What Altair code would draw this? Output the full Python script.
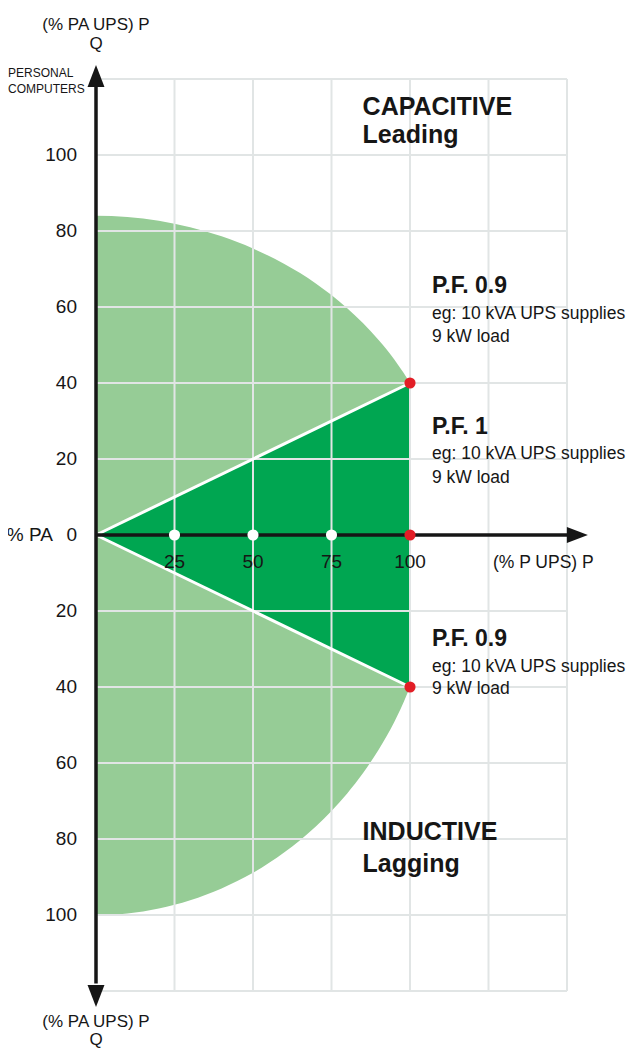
import altair as alt
import pandas as pd

FONT = "Liberation Sans"
LIGHT = "#96cc96"
DARK = "#00a651"
RED = "#e21e26"
GRID = "#e1e5e5"
INK = "#161616"

# ---- grid values ----
x_grid = [25, 50, 75, 100, 125, 150]
y_grid = [-120, -100, -80, -60, -40, -20, 20, 40, 60, 80, 100, 120]

# ---- capability envelope (light green) ----
upper_x = [0, 10, 20, 30, 40, 50, 60, 70, 80, 85, 90, 95, 98, 100]
upper_y = [84, 83.7, 82.7, 81.0, 78.6, 75.4, 71.3, 66.2, 59.7, 55.8, 51.3, 46.2, 42.6, 40]
lower_x = [0, 10, 20, 30, 40, 50, 60, 70, 80, 85, 90, 95, 97, 99, 100]
lower_y = [-100, -99.6, -98.3, -96.1, -93.0, -88.9, -83.5, -76.7, -68.0, -62.7, -56.5,
           -49.2, -45.8, -42.0, -40]

# ---- power-factor triangle (dark green) ----
tri_x = [0, 100]
tri_top = [0, 40]
tri_bottom = [0, -40]

# ---- white P.F. lines ----
pf_line_x = [0, 100, 0, 100]
pf_line_y = [0, 40, 0, -40]
pf_line_id = ["lead", "lead", "lag", "lag"]

# ---- dots ----
dot_x = [25, 50, 75, 100, 100, 100]
dot_y = [0, 0, 0, 0, 40, -40]
dot_kind = ["white", "white", "white", "red", "red", "red"]

# ---- axis lines and arrow heads ----
yaxis_x, yaxis_y0, yaxis_y1 = [0], [-118], [118]
xaxis_y, xaxis_x0, xaxis_x1 = [0], [0], [150.3]
arrow_up = {"x": [0], "y": [120.8]}
arrow_down = {"x": [0], "y": [-121.3]}
arrow_right = {"x": [153.3], "y": [0]}

# ---- tick labels ----
ytick_vals = [100, 80, 60, 40, 20, 0, -20, -40, -60, -80, -100]
ytick_text = ["100", "80", "60", "40", "20", "0", "20", "40", "60", "80", "100"]
xtick_vals = [25, 50, 75, 100]
xtick_text = ["25", "50", "75", "100"]

# ---- annotations ----
big_text = ["CAPACITIVE", "Leading", "INDUCTIVE", "Lagging"]
big_y = [110.5, 103.2, -80.3, -88.7]
pf_text = ["P.F. 0.9", "P.F. 1", "P.F. 0.9"]
pf_y = [63.7, 26.6, -29.2]
eg_text = ["eg: 10 kVA UPS supplies", "9 kW load",
           "eg: 10 kVA UPS supplies", "9 kW load",
           "eg: 10 kVA UPS supplies", "9 kW load"]
eg_y = [56.8, 50.8, 20.0, 13.7, -36.1, -41.8]

title_text = ["(% PA UPS) P", "Q", "(% PA UPS) P", "Q"]
title_y = [132.9, 127.9, -129.6, -134.1]
pc_text = ["PERSONAL", "COMPUTERS"]
pc_y = [120.6, 116.2]

XS = alt.Scale(domain=[0, 150], nice=False, zero=False)
YS = alt.Scale(domain=[-120, 120], nice=False, zero=False)


def X(f="x"):
    return alt.X(f"{f}:Q", scale=XS, axis=None)


def Y(f="y"):
    return alt.Y(f"{f}:Q", scale=YS, axis=None)


upper = alt.Chart(pd.DataFrame({"x": upper_x, "y": upper_y})).mark_area(
    color=LIGHT, interpolate="monotone", opacity=1
).encode(x=X(), y=Y(), y2=alt.datum(0))

lower = alt.Chart(pd.DataFrame({"x": lower_x, "y": lower_y})).mark_area(
    color=LIGHT, interpolate="monotone", opacity=1
).encode(x=X(), y=Y(), y2=alt.datum(0))

tri = alt.Chart(pd.DataFrame({"x": tri_x, "top": tri_top, "bottom": tri_bottom})).mark_area(
    color=DARK, opacity=1
).encode(x=X(), y=Y("top"), y2="bottom:Q")

vgrid = alt.Chart(pd.DataFrame({"x": x_grid})).mark_rule(
    color=GRID, strokeWidth=2
).encode(x=X())
hgrid = alt.Chart(pd.DataFrame({"y": y_grid})).mark_rule(
    color=GRID, strokeWidth=2
).encode(y=Y())

pf_lines = alt.Chart(pd.DataFrame({"x": pf_line_x, "y": pf_line_y, "s": pf_line_id})).mark_line(
    color="white", strokeWidth=3
).encode(x=X(), y=Y(), detail="s:N")

yaxis = alt.Chart(pd.DataFrame({"x": yaxis_x, "y": yaxis_y0, "y2": yaxis_y1})).mark_rule(
    color=INK, strokeWidth=3.5
).encode(x=X(), y=Y(), y2="y2:Q")
xaxis = alt.Chart(pd.DataFrame({"y": xaxis_y, "x": xaxis_x0, "x2": xaxis_x1})).mark_rule(
    color=INK, strokeWidth=3.5
).encode(x=X(), x2="x2:Q", y=Y())


def arrow(d, path, size):
    return alt.Chart(pd.DataFrame(d)).mark_point(
        shape=path, filled=True, color=INK, size=size, opacity=1, strokeWidth=0
    ).encode(x=X(), y=Y())


a_up = arrow(arrow_up, "M0,-1L0.77,1L-0.77,1Z", 484)
a_down = arrow(arrow_down, "M0,1L0.77,-1L-0.77,-1Z", 484)
a_right = arrow(arrow_right, "M1,0L-1,-0.77L-1,0.77Z", 441)

dots = alt.Chart(pd.DataFrame({"x": dot_x, "y": dot_y, "k": dot_kind})).mark_circle(
    size=125, opacity=1
).encode(
    x=X(), y=Y(),
    color=alt.Color("k:N", scale=alt.Scale(domain=["white", "red"], range=["white", RED]), legend=None),
)


def texts(txt, xs, ys, size, weight="normal", align="left", baseline="alphabetic"):
    df = pd.DataFrame({"t": txt, "x": xs, "y": ys})
    return alt.Chart(df).mark_text(
        font=FONT, fontSize=size, fontWeight=weight, align=align, baseline=baseline, color=INK
    ).encode(x=X(), y=Y(), text="t:N")


ylabels = texts(ytick_text, [-6.05] * len(ytick_vals), ytick_vals, 19, align="right", baseline="middle")
pa_label = texts(["% PA"], [-13.7], [0], 19, align="right", baseline="middle")
xlabels = texts(xtick_text, xtick_vals, [-8.7] * len(xtick_vals), 19, align="center")
ptitle = texts(["(% P UPS) P"], [126.4], [-8.7], 17.5)
qtitles = texts(title_text, [0] * 4, title_y, 17, align="center")
pc = texts(pc_text, [-28.0] * 2, pc_y, 12)
big = texts(big_text, [84.9] * 4, big_y, 25, weight="bold")
pf = texts(pf_text, [107.0] * 3, pf_y, 23, weight="bold")
eg = texts(eg_text, [107.0] * 6, eg_y, 17.5)

chart = alt.layer(
    upper, lower, tri, vgrid, hgrid, pf_lines, yaxis, xaxis, a_up, a_down, a_right, dots,
    ylabels, pa_label, xlabels, ptitle, qtitles, pc, big, pf, eg,
).properties(
    width=471,
    height=912,
    autosize=alt.AutoSizeParams(type="none"),
    padding={"left": 88, "top": 71, "right": 66, "bottom": 58},
    background="white",
).configure_view(stroke=None)

chart.save("out.html", embed_options={"renderer": "svg", "actions": False})
